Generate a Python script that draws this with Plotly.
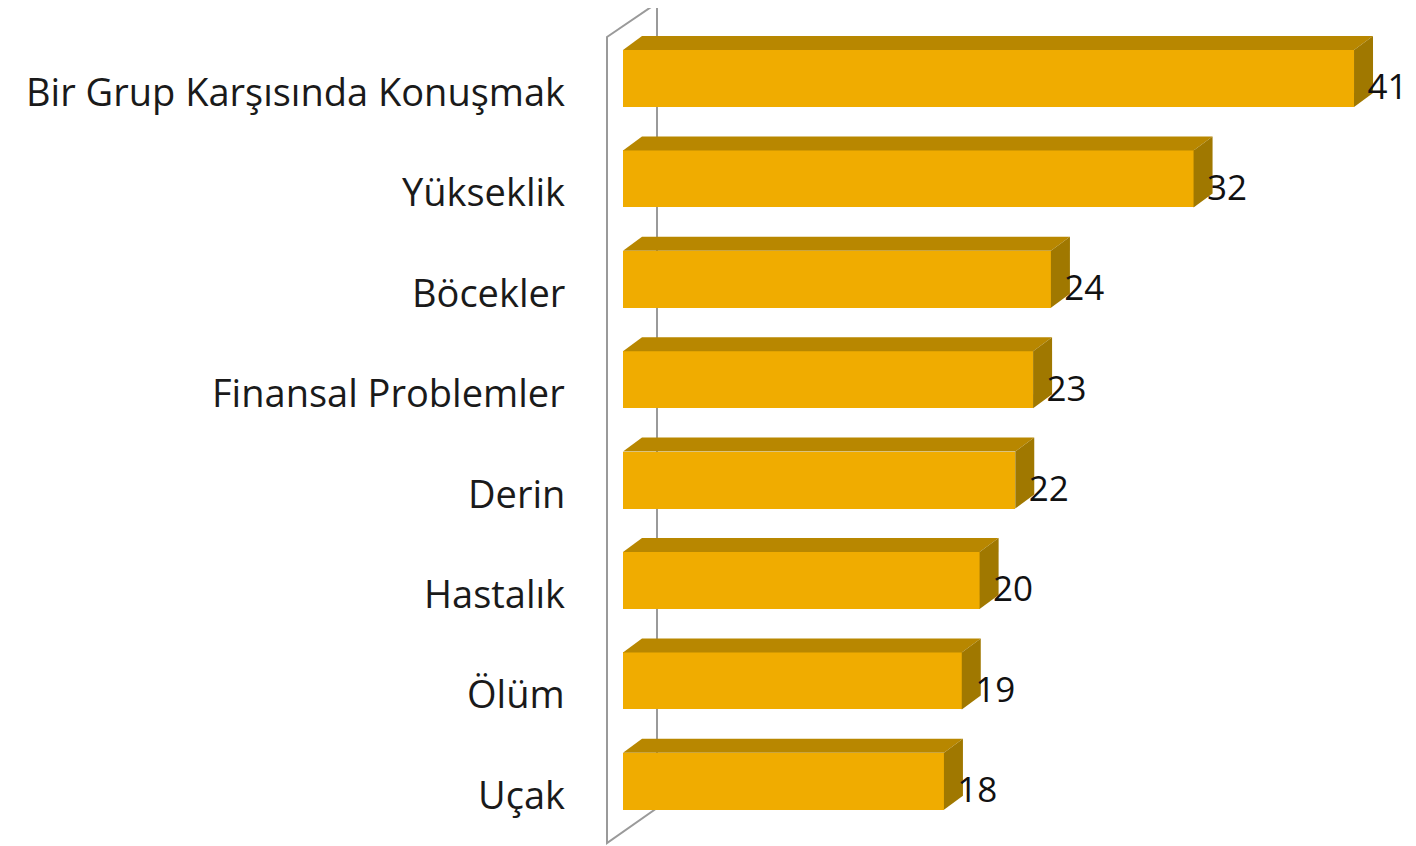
"""
3D-style horizontal bar chart: common fears.
"""
import plotly.graph_objects as go

# data
categories = [
    "Bir Grup Karşısında Konuşmak",
    "Yükseklik",
    "Böcekler",
    "Finansal Problemler",
    "Derin",
    "Hastalık",
    "Ölüm",
    "Uçak",
]
values = [41, 32, 24, 23, 22, 20, 19, 18]

FRONT = "#F0AC00"
TOP = "#B88700"
SIDE = "#A07800"
WALL = "#9A9A9A"

OFF = 8                      # default page margin of the html body
W, H = 1416 - OFF, 846 - OFF
PX_PER_UNIT = 17.83          # horizontal pixels per value unit
X0_PX = 623 - OFF            # pixel of value 0
ROW_PX = 100.4               # pixels between rows
ROW0_PX = 78.5 - OFF         # pixel of first row centre


def px_x(p):
    return (p - OFF - X0_PX) / PX_PER_UNIT


def px_y(p):
    return (p - OFF - ROW0_PX) / ROW_PX


x_range = [-X0_PX / PX_PER_UNIT, (W - X0_PX) / PX_PER_UNIT]
y_range = [(H - ROW0_PX) / ROW_PX, -ROW0_PX / ROW_PX]

bar_w = 57 / ROW_PX
dx = 19 / PX_PER_UNIT
dy = -14 / ROW_PX
half = bar_w / 2

fig = go.Figure()

ys = list(range(len(categories)))

# top and side faces of the 3D bars
for i, v in zip(ys, values):
    top_x = [0, v, v + dx, dx, 0]
    top_y = [i - half, i - half, i - half + dy, i - half + dy, i - half]
    fig.add_trace(go.Scatter(x=top_x, y=top_y, fill="toself", fillcolor=TOP,
                             mode="lines", line=dict(width=0), hoverinfo="skip",
                             showlegend=False))
    side_x = [v, v + dx, v + dx, v, v]
    side_y = [i - half, i - half + dy, i + half + dy, i + half, i - half]
    fig.add_trace(go.Scatter(x=side_x, y=side_y, fill="toself", fillcolor=SIDE,
                             mode="lines", line=dict(width=0), hoverinfo="skip",
                             showlegend=False))

# front faces
fig.add_trace(go.Bar(x=values, y=ys, orientation="h", width=bar_w,
                     marker=dict(color=FRONT, line=dict(width=0)),
                     showlegend=False))

# value labels
fig.add_trace(go.Scatter(x=[v + 0.75 for v in values], y=[i + 0.12 for i in ys],
                         mode="text", text=[str(v) for v in values],
                         textposition="middle right",
                         textfont=dict(family="Open Sans", size=35, color="#111111"),
                         hoverinfo="skip", showlegend=False, cliponaxis=False))

# category labels
for i, c in zip(ys, categories):
    fig.add_annotation(x=px_x(567), y=i + 0.125, text=c,
                       xanchor="right", yanchor="middle", showarrow=False,
                       font=dict(family="Open Sans", size=38, color="#1a1a1a"))

# back wall outline
fig.add_shape(type="path", layer="below",
              path=f"M {px_x(607)},{px_y(37)} L {px_x(657)},{px_y(3)} "
                   f"L {px_x(657)},{px_y(808)} L {px_x(607)},{px_y(843)} Z",
              line=dict(color=WALL, width=2))

fig.update_layout(
    width=W, height=H,
    margin=dict(l=0, r=0, t=0, b=0),
    plot_bgcolor="white", paper_bgcolor="white",
    xaxis=dict(range=x_range, visible=False, fixedrange=True),
    yaxis=dict(range=y_range, visible=False, fixedrange=True),
    bargap=0,
)

fig.write_html("out.html")
